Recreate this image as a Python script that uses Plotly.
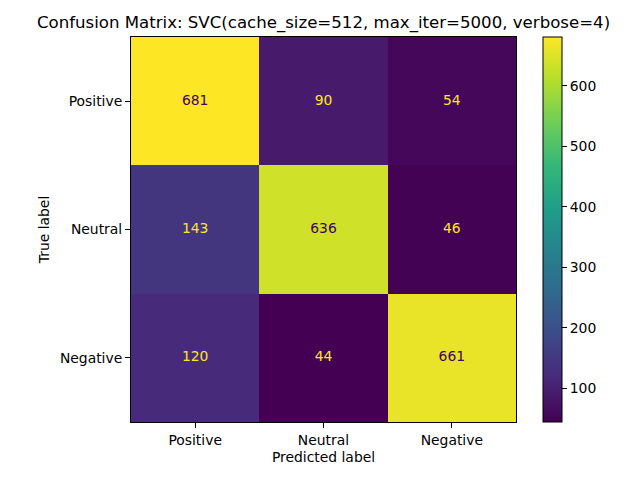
import plotly.graph_objects as go

labels = ["Positive", "Neutral", "Negative"]
matrix = [
    [681, 90, 54],
    [143, 636, 46],
    [120, 44, 661],
]
cbar_ticks = [100, 200, 300, 400, 500, 600]

vmin = min(min(r) for r in matrix)
vmax = max(max(r) for r in matrix)
thresh = (vmin + vmax) / 2

tx, ty, tt, tc = [], [], [], []
for i, row in enumerate(matrix):
    for j, v in enumerate(row):
        tx.append(labels[j])
        ty.append(labels[i])
        tt.append(str(v))
        tc.append("#440154" if v >= thresh else "#fde725")

fs = 13.9

fig = go.Figure()
fig.add_trace(go.Heatmap(
    z=matrix, x=labels, y=labels,
    colorscale="Viridis", zmin=vmin, zmax=vmax,
    xgap=0, ygap=0, hoverinfo="skip",
    colorbar=dict(
        x=(543 - 131) / 385, xanchor="left", xpad=0,
        y=0.5, yanchor="middle", ypad=0, len=1.0, lenmode="fraction",
        thickness=19, outlinewidth=1, outlinecolor="black",
        tickvals=cbar_ticks, ticks="outside", ticklen=5, tickcolor="black",
        tickfont=dict(size=fs, color="black"),
    ),
))
fig.add_trace(go.Scatter(
    x=tx, y=ty, text=tt, mode="text",
    textfont=dict(size=fs, color=tc, family="DejaVu Sans"),
    hoverinfo="skip", showlegend=False,
))

# the page body keeps its default 8px margin, so the figure is 8px smaller
fig.update_layout(
    width=632, height=472,
    margin=dict(l=123, r=124, t=29, b=58),
    paper_bgcolor="white", plot_bgcolor="white",
    font=dict(family="DejaVu Sans", size=fs, color="black"),
    title=dict(
        text="Confusion Matrix: SVC(cache_size=512, max_iter=5000, verbose=4)",
        x=(131 + 516) / 2 / 632 - 8 / 632, xanchor="center",
        y=1 - 14 / 472, yanchor="middle",
        font=dict(size=16.6),
    ),
)
fig.update_xaxes(
    title=dict(text="Predicted label", standoff=5, font=dict(size=fs)),
    tickfont=dict(size=fs),
    automargin=False,
    ticks="outside", ticklen=5, tickcolor="black",
    showline=True, linecolor="black", linewidth=1, mirror=True,
    showgrid=False, zeroline=False,
)
fig.update_yaxes(
    title=dict(text="True label", standoff=7, font=dict(size=fs)),
    tickfont=dict(size=fs),
    automargin=False,
    autorange="reversed",
    ticks="outside", ticklen=5, tickcolor="black",
    showline=True, linecolor="black", linewidth=1, mirror=True,
    showgrid=False, zeroline=False,
)

fig.write_html("out.html")
